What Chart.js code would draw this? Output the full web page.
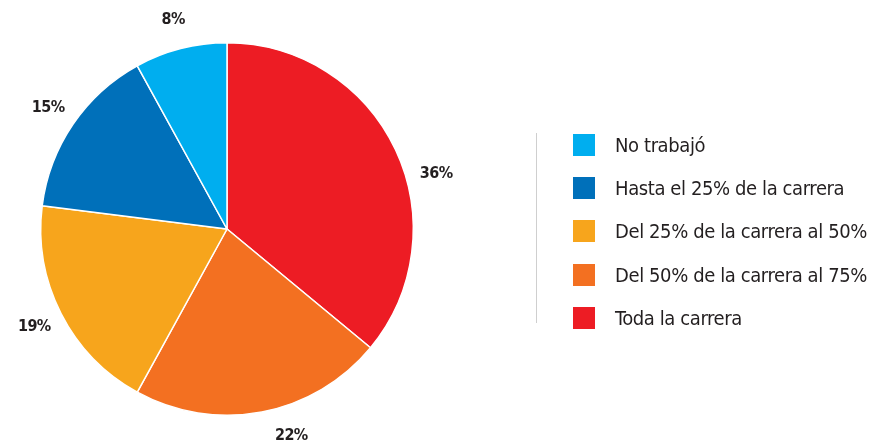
<!DOCTYPE html>
<html>
<head>
<meta charset="utf-8">
<script src="https://cdn.jsdelivr.net/npm/chart.js@4/dist/chart.umd.min.js"></script>
<style>
  html, body { margin: 0; padding: 0; background: #fff; }
  #wrap { position: relative; width: 875px; height: 447px; }
  #legend {
    position: absolute; left: 536px; top: 133px; height: 190px;
    border-left: 1.5px solid #cfcfcf; padding-left: 36px;
    font-family: "Liberation Sans Narrow", "DejaVu Sans Condensed", sans-serif;
    font-size: 20px; letter-spacing: -0.4px; color: #231f20; white-space: nowrap;
  }
  #legend div { height: 43.2px; line-height: 25px; display: flex; align-items: flex-start; }
  #legend span.box { width: 22px; height: 22px; margin-right: 20px; margin-top: 1px; flex: none; }
</style>
</head>
<body>
<div id="wrap">
  <canvas id="pieChart" width="875" height="447"></canvas>
  <div id="legend"></div>
</div>
<script>
// legend order (as in the key)
var categories = ["No trabajó", "Hasta el 25% de la carrera", "Del 25% de la carrera al 50%", "Del 50% de la carrera al 75%", "Toda la carrera"];
var shares = [8, 15, 19, 22, 36];
var colors = ["#00aeef", "#0070ba", "#f7a51c", "#f37021", "#ed1c24"];

// slices go clockwise from the top starting with the last category
var pieLabels = categories.slice().reverse();
var pieData = shares.slice().reverse();
var pieColors = colors.slice().reverse();

var outsideLabels = {
    id: 'outsideLabels',
    afterDatasetsDraw: function(chart, args, opts) {
        var ctx = chart.ctx;
        var meta = chart.getDatasetMeta(0);
        ctx.save();
        ctx.font = 'bold 16px "Liberation Sans Narrow", "DejaVu Sans Condensed", sans-serif';
        ctx.letterSpacing = '-0.6px';
        ctx.fillStyle = '#231f20';
        ctx.textAlign = 'center';
        ctx.textBaseline = 'middle';
        meta.data.forEach(function(arc, i) {
            var a = (arc.startAngle + arc.endAngle) / 2 + (opts.shift[i] || 0) * Math.PI / 180;
            var r = arc.outerRadius + opts.gap;
            ctx.fillText(pieData[i] + '%', arc.x + r * Math.cos(a), arc.y + r * Math.sin(a));
        });
        ctx.restore();
    }
};

new Chart(document.getElementById('pieChart'), {
    type: 'pie',
    data: {
        labels: pieLabels,
        datasets: [{
            data: pieData,
            backgroundColor: pieColors,
            borderColor: '#ffffff',
            borderWidth: 1.5
        }]
    },
    options: {
        responsive: false,
        animation: false,
        layout: { padding: { left: 40, right: 461, top: 42, bottom: 31 } },
        plugins: {
            legend: { display: false },
            tooltip: { enabled: false },
            outsideLabels: { gap: 30, shift: [10.5, -6.5, 0, 0, 0] }
        }
    },
    plugins: [outsideLabels]
});

var legend = document.getElementById('legend');
for (var i = 0; i < categories.length; ++i) {
    var row = document.createElement('div');
    var box = document.createElement('span');
    box.className = 'box';
    box.style.background = colors[i];
    var txt = document.createElement('span');
    txt.innerText = categories[i];
    row.appendChild(box);
    row.appendChild(txt);
    legend.appendChild(row);
}
</script>
</body>
</html>
